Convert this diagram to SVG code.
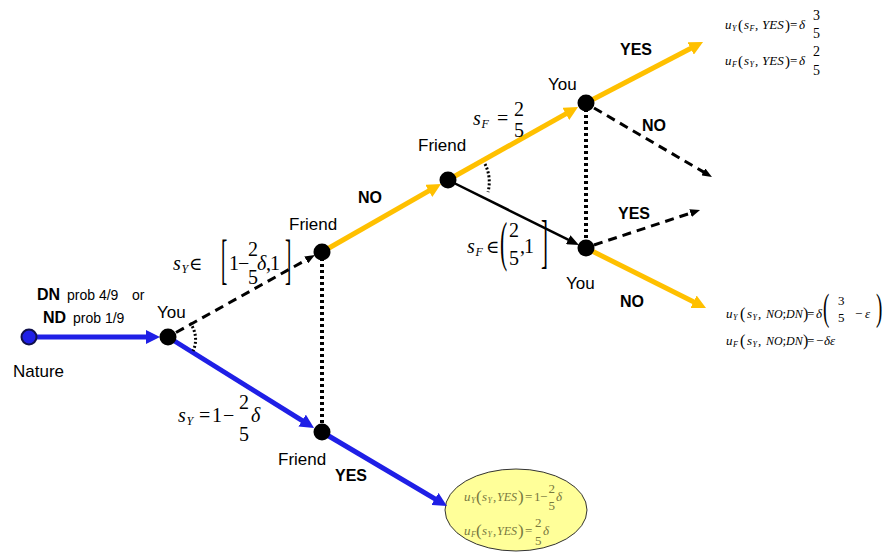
<svg xmlns="http://www.w3.org/2000/svg" width="889" height="553" viewBox="0 0 889 553">
<style>
.lbl{font-family:"Liberation Sans",Arial,sans-serif;font-size:17px;fill:#000}
.sm{font-family:"Liberation Sans",Arial,sans-serif;font-size:14px;fill:#000}
.b{font-family:"Liberation Sans",Arial,sans-serif;font-size:16px;font-weight:bold;fill:#000}
.m{font-family:"Liberation Serif","DejaVu Serif",serif;fill:#000}
.ol{fill:#77773f}
.i{font-style:italic}
.blue{stroke:#1f1fe6;stroke-width:5;fill:none}
.org{stroke:#ffc000;stroke-width:5;fill:none}
.blk{stroke:#000;stroke-width:2.5;fill:none}
.dash{stroke:#000;stroke-width:3;stroke-dasharray:9 6;fill:none}
.dot{stroke:#000;stroke-width:4;stroke-dasharray:3 3;fill:none}
.arc{stroke:#000;stroke-width:3;stroke-dasharray:2 2;fill:none}
.node{fill:#000}
</style>
<defs>
<marker id="ab" markerWidth="16" markerHeight="14" refX="1" refY="7" orient="auto" markerUnits="userSpaceOnUse"><path d="M0,0 L14,7 L0,14 z" fill="#1f1fe6"/></marker>
<marker id="ao" markerWidth="16" markerHeight="14" refX="1" refY="7" orient="auto" markerUnits="userSpaceOnUse"><path d="M0,0 L14,7 L0,14 z" fill="#ffc000"/></marker>
<marker id="ak" markerWidth="14" markerHeight="10" refX="1" refY="5" orient="auto" markerUnits="userSpaceOnUse"><path d="M0,0 L12,5 L0,10 z" fill="#000"/></marker>
<marker id="ad" markerWidth="12" markerHeight="8" refX="1" refY="4" orient="auto" markerUnits="userSpaceOnUse"><path d="M0,0 L10,4 L0,8 z" fill="#000"/></marker>
</defs>

<g id="payoff-yes-ellipse">
<ellipse cx="516" cy="510" rx="71" ry="41" fill="#ffff99" stroke="#333" stroke-width="1"/>
<text class="m ol" font-size="13">
<tspan class="i" x="464" y="501">u</tspan><tspan class="i" x="471" y="503" font-size="8">Y</tspan><tspan x="476" y="502" font-size="17">(</tspan><tspan class="i" x="482" y="501">s</tspan><tspan class="i" x="487.5" y="503" font-size="8">Y</tspan><tspan x="493" y="501">,</tspan><tspan class="i" x="497" y="501" font-size="12">YES</tspan><tspan x="518" y="502" font-size="17">)</tspan><tspan x="525" y="501">=</tspan><tspan x="534" y="501">1</tspan><tspan x="540" y="501">−</tspan><tspan x="548.5" y="493">2</tspan><tspan x="548.5" y="510">5</tspan><tspan class="i" x="556" y="501">δ</tspan>
</text>
<text class="m ol" font-size="13">
<tspan class="i" x="464" y="535">u</tspan><tspan class="i" x="471" y="537" font-size="8">F</tspan><tspan x="476" y="536" font-size="17">(</tspan><tspan class="i" x="482" y="535">s</tspan><tspan class="i" x="487.5" y="537" font-size="8">Y</tspan><tspan x="493" y="535">,</tspan><tspan class="i" x="497" y="535" font-size="12">YES</tspan><tspan x="518" y="536" font-size="17">)</tspan><tspan x="525" y="535">=</tspan><tspan x="535" y="527">2</tspan><tspan x="535" y="545">5</tspan><tspan class="i" x="543" y="535">δ</tspan>
</text>
</g>

<g id="connectors">
<line class="blue" x1="36" y1="337" x2="147" y2="337" marker-end="url(#ab)"/>
<line class="blue" x1="168" y1="337" x2="303" y2="421.1" marker-end="url(#ab)"/>
<line class="dash" x1="176" y1="332.5" x2="307.1" y2="259.4" marker-end="url(#ad)"/>
<line class="dot" x1="322" y1="252" x2="322" y2="432"/>
<line class="org" x1="322" y1="252" x2="429.7" y2="190.4" marker-end="url(#ao)"/>
<line class="blue" x1="322" y1="432" x2="435.8" y2="499.4" marker-end="url(#ab)"/>
<line class="org" x1="448" y1="180" x2="566.7" y2="113.4" marker-end="url(#ao)"/>
<line class="blk" x1="448" y1="180" x2="569.1" y2="240.1" marker-end="url(#ak)"/>
<line class="dot" x1="586" y1="103" x2="586" y2="248"/>
<line class="org" x1="586" y1="103" x2="691.5" y2="48" marker-end="url(#ao)"/>
<line class="dash" x1="594" y1="108" x2="704.2" y2="172.4" marker-end="url(#ad)"/>
<line class="dash" x1="594" y1="245" x2="691.5" y2="212.8" marker-end="url(#ad)"/>
<line class="org" x1="586" y1="248" x2="694.4" y2="302.2" marker-end="url(#ao)"/>
<path class="arc" d="M190,323 A27,27 0 0 1 193,351"/>
<path class="arc" d="M485,164 A40,40 0 0 1 488,192"/>
</g>

<g id="nature">
<circle cx="29" cy="337" r="7.5" fill="#1f1fe6" stroke="#10104a" stroke-width="2"/>
<text class="lbl" x="13" y="377">Nature</text>
<text class="b" x="37" y="300">DN</text>
<text class="sm" x="67" y="300">prob 4/9</text>
<text class="sm" x="132" y="300">or</text>
<text class="b" x="43" y="323">ND</text>
<text class="sm" x="73" y="323">prob 1/9</text>
</g>

<g id="you1">
<circle class="node" cx="168" cy="337" r="8.5"/>
<text class="lbl" x="157" y="318">You</text>
</g>

<g id="friend1">
<circle class="node" cx="322" cy="252" r="8.5"/>
<text class="lbl" x="289" y="230">Friend</text>
</g>

<g id="friend2">
<circle class="node" cx="322" cy="432" r="8.5"/>
<text class="lbl" x="278" y="465">Friend</text>
</g>

<g id="friend3">
<circle class="node" cx="448" cy="180" r="8.5"/>
<text class="lbl" x="418" y="151">Friend</text>
</g>

<g id="you2">
<circle class="node" cx="586" cy="103" r="8.5"/>
<text class="lbl" x="548" y="90">You</text>
</g>

<g id="you3">
<circle class="node" cx="586" cy="248" r="8.5"/>
<text class="lbl" x="566" y="289">You</text>
</g>

<g id="edge-labels">
<text class="b" x="358" y="203">NO</text>
<text class="b" x="335" y="481">YES</text>
<text class="b" x="620" y="55">YES</text>
<text class="b" x="642" y="131">NO</text>
<text class="b" x="618" y="219">YES</text>
<text class="b" x="620" y="307">NO</text>

<text class="m" font-size="20">
<tspan class="i" x="173" y="270">s</tspan><tspan class="i" x="181.5" y="273" font-size="12">Y</tspan><tspan x="189" y="270" font-size="18">∈</tspan>
</text>
<text class="m" font-size="20">
<tspan x="229" y="270">1</tspan><tspan x="238" y="270">−</tspan><tspan x="248" y="256">2</tspan><tspan x="248" y="284">5</tspan><tspan class="i" x="257" y="270">δ</tspan><tspan x="266" y="270">,</tspan><tspan x="270" y="270">1</tspan>
</text>
<text class="m" font-size="54" transform="translate(221,278) scale(0.35,1)">[</text>
<text class="m" font-size="54" transform="translate(285,278) scale(0.35,1)">]</text>

<text class="m" font-size="20">
<tspan class="i" x="178" y="422">s</tspan><tspan class="i" x="186.5" y="425" font-size="12">Y</tspan><tspan x="199" y="422">=</tspan><tspan x="212" y="422">1</tspan><tspan x="223" y="422">−</tspan><tspan x="239" y="409">2</tspan><tspan x="239" y="441">5</tspan><tspan class="i" x="251" y="422">δ</tspan>
</text>

<text class="m" font-size="20">
<tspan class="i" x="473" y="125">s</tspan><tspan class="i" x="481.5" y="128" font-size="12">F</tspan><tspan x="497" y="125">=</tspan><tspan x="514" y="116">2</tspan><tspan x="514" y="137">5</tspan>
</text>

<text class="m" font-size="20">
<tspan class="i" x="467" y="253">s</tspan><tspan class="i" x="475.5" y="256" font-size="12">F</tspan><tspan x="486" y="253" font-size="18">∈</tspan><tspan x="509" y="237">2</tspan><tspan x="509" y="265">5</tspan><tspan x="520" y="253">,</tspan><tspan x="524" y="253">1</tspan>
</text>
<text class="m" font-size="54" transform="translate(500,260) scale(0.4,1)">(</text>
<text class="m" font-size="60" transform="translate(541,261) scale(0.35,1)">]</text>

<text class="m" font-size="13">
<tspan class="i" x="725" y="29">u</tspan><tspan class="i" x="732" y="31" font-size="8">Y</tspan><tspan x="738" y="30" font-size="15">(</tspan><tspan class="i" x="744" y="29">s</tspan><tspan class="i" x="749.5" y="31" font-size="8">F</tspan><tspan x="755" y="29">,</tspan><tspan class="i" x="762" y="29">YES</tspan><tspan x="785" y="30" font-size="15">)</tspan><tspan x="790" y="29">=</tspan><tspan class="i" x="799" y="29">δ</tspan><tspan x="813" y="20" font-size="14">3</tspan><tspan x="813" y="38" font-size="14">5</tspan>
</text>
<text class="m" font-size="13">
<tspan class="i" x="725" y="65">u</tspan><tspan class="i" x="732" y="67" font-size="8">F</tspan><tspan x="738" y="66" font-size="15">(</tspan><tspan class="i" x="744" y="65">s</tspan><tspan class="i" x="749.5" y="67" font-size="8">Y</tspan><tspan x="755" y="65">,</tspan><tspan class="i" x="762" y="65">YES</tspan><tspan x="785" y="66" font-size="15">)</tspan><tspan x="790" y="65">=</tspan><tspan class="i" x="799" y="65">δ</tspan><tspan x="813" y="56" font-size="14">2</tspan><tspan x="813" y="75" font-size="14">5</tspan>
</text>

<text class="m" font-size="13">
<tspan class="i" x="726" y="318">u</tspan><tspan class="i" x="733" y="320" font-size="8">Y</tspan><tspan x="740" y="319" font-size="16">(</tspan><tspan class="i" x="747" y="318">s</tspan><tspan class="i" x="752.5" y="320" font-size="8">Y</tspan><tspan x="758" y="318">,</tspan><tspan class="i" x="766" y="318" font-size="12">NO</tspan><tspan x="782.5" y="318">;</tspan><tspan class="i" x="786" y="318" font-size="12">DN</tspan><tspan x="803" y="319" font-size="16">)</tspan><tspan x="807" y="318">=</tspan><tspan class="i" x="816" y="318">δ</tspan><tspan x="838" y="305">3</tspan><tspan x="838" y="322">5</tspan><tspan x="855" y="318">−</tspan><tspan class="i" x="865" y="318">ε</tspan>
</text>
<text class="m" font-size="38" transform="translate(823,320) scale(0.5,1)">(</text>
<text class="m" font-size="38" transform="translate(876,320) scale(0.5,1)">)</text>

<text class="m" font-size="13">
<tspan class="i" x="726" y="345">u</tspan><tspan class="i" x="733" y="347" font-size="8">F</tspan><tspan x="740" y="346" font-size="16">(</tspan><tspan class="i" x="747" y="345">s</tspan><tspan class="i" x="752.5" y="347" font-size="8">Y</tspan><tspan x="758" y="345">,</tspan><tspan class="i" x="766" y="345" font-size="12">NO</tspan><tspan x="782.5" y="345">;</tspan><tspan class="i" x="786" y="345" font-size="12">DN</tspan><tspan x="803" y="346" font-size="16">)</tspan><tspan x="807" y="345">=</tspan><tspan x="816" y="345">−</tspan><tspan class="i" x="824" y="345">δε</tspan>
</text>
</g>
</svg>
